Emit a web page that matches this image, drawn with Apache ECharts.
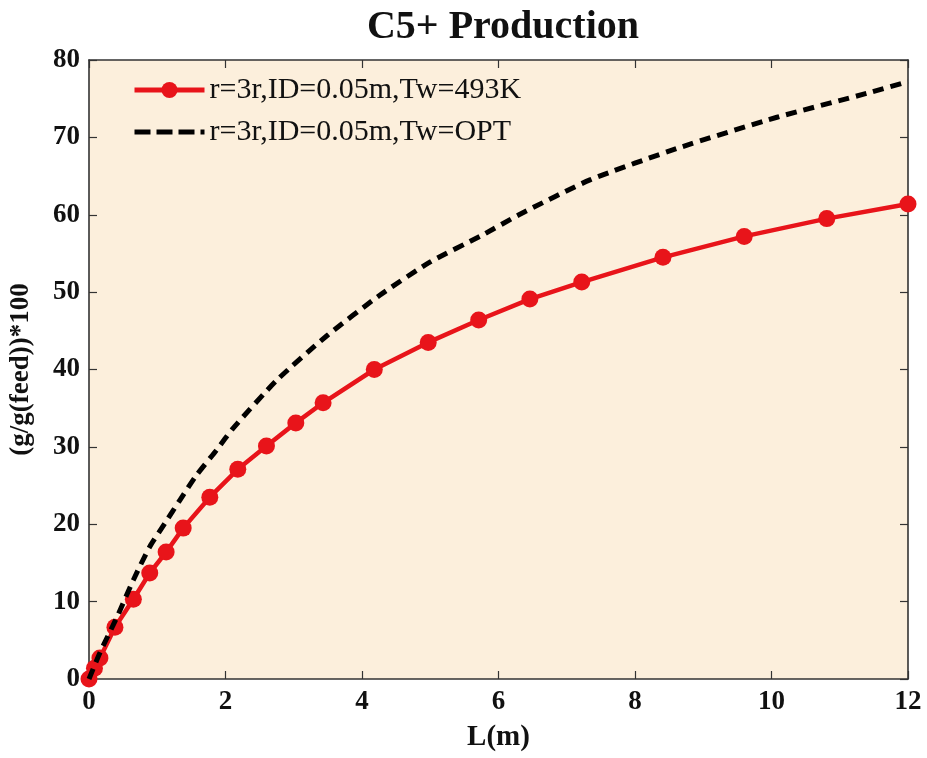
<!DOCTYPE html>
<html>
<head>
<meta charset="utf-8">
<script src="https://cdn.jsdelivr.net/npm/echarts@6/dist/echarts.min.js"></script>
<style>html,body{margin:0;padding:0;background:#fff;}#c{width:927px;height:758px;}</style>
</head>
<body>
<div id="c"></div>
<script>
const titleText = 'C5+ Production';
const xName = 'L(m)';
const yName = '(g/g(feed))*100';
const seriesNames = ['r=3r,ID=0.05m,Tw=493K', 'r=3r,ID=0.05m,Tw=OPT'];
const xTicks = [0, 2, 4, 6, 8, 10, 12];
const yTicks = [0, 10, 20, 30, 40, 50, 60, 70, 80];

const redX = [0, 0.08, 0.16, 0.38, 0.65, 0.89, 1.13, 1.38, 1.77, 2.18, 2.6, 3.03, 3.43, 4.18, 4.97, 5.71, 6.46, 7.22, 8.41, 9.6, 10.81, 12];
const redY = [0, 1.4, 2.7, 6.7, 10.3, 13.7, 16.4, 19.5, 23.5, 27.1, 30.1, 33.1, 35.7, 40.0, 43.5, 46.4, 49.1, 51.3, 54.5, 57.2, 59.5, 61.4];

const blackX = [0, 0.16, 0.41, 0.65, 0.89, 1.11, 1.33, 1.58, 1.87, 2.11, 2.75, 3.49, 4.26, 5.0, 5.77, 6.3, 7.34, 8.66, 10.08, 11.4, 12];
const blackY = [0, 3.4, 8.0, 12.8, 17.1, 20.1, 23.1, 26.4, 29.6, 32.4, 38.6, 44.4, 49.6, 53.9, 57.4, 60.0, 64.5, 68.7, 72.6, 75.7, 77.2];

const serif = '"Liberation Serif","DejaVu Serif",serif';
const RED = '#E8141A';
const chart = echarts.init(document.getElementById('c'), null, {renderer: 'canvas'});

const axisLine = {show: true, onZero: false, lineStyle: {color: '#333', width: 1.6}};
const tick = {show: true, inside: true, length: 8, lineStyle: {color: '#333', width: 1.2}};

chart.setOption({
  backgroundColor: '#fff',
  animation: false,
  title: {
    text: titleText, left: 498, top: 3, textAlign: 'center',
    textStyle: {fontFamily: serif, fontWeight: 'bold', fontSize: 40, color: '#111'}
  },
  legend: {
    orient: 'vertical', left: 127, top: 70, itemWidth: 70, itemHeight: 20, itemGap: 12,
    textStyle: {fontFamily: serif, fontSize: 30, color: '#111'},
    data: [
      {name: seriesNames[0], lineStyle: {width: 5, color: RED}, itemStyle: {color: RED}},
      {name: seriesNames[1], lineStyle: {width: 5, color: '#000', type: [16, 6]}, itemStyle: {opacity: 0}}
    ]
  },
  grid: {left: 89, right: 19, top: 60, bottom: 79, show: true, backgroundColor: '#FCEFDC', borderWidth: 0},
  xAxis: [{
    type: 'value', min: 0, max: 12, interval: 2,
    name: xName, nameLocation: 'middle', nameGap: 44,
    nameTextStyle: {fontFamily: serif, fontWeight: 'bold', fontSize: 29, color: '#111'},
    axisLine: axisLine, axisTick: tick, splitLine: {show: false},
    axisLabel: {fontFamily: serif, fontWeight: 'bold', fontSize: 27, color: '#111', margin: 10,
      formatter: v => xTicks.includes(v) ? String(v) : ''}
  }, {
    type: 'value', position: 'top', min: 0, max: 12, interval: 2,
    axisLine: axisLine, axisTick: tick, axisLabel: {show: false}, splitLine: {show: false}
  }],
  yAxis: [{
    type: 'value', min: 0, max: 80, interval: 10,
    name: yName, nameLocation: 'middle', nameGap: 54, nameRotate: 90,
    nameTextStyle: {fontFamily: serif, fontWeight: 'bold', fontSize: 27, color: '#111'},
    axisLine: axisLine, axisTick: tick, splitLine: {show: false},
    axisLabel: {fontFamily: serif, fontWeight: 'bold', fontSize: 27, color: '#111', margin: 9,
      formatter: v => yTicks.includes(v) ? String(v) : ''}
  }, {
    type: 'value', position: 'right', min: 0, max: 80, interval: 10,
    axisLine: axisLine, axisTick: tick, axisLabel: {show: false}, splitLine: {show: false}
  }],
  series: [{
    name: seriesNames[0], type: 'line', xAxisIndex: 0, yAxisIndex: 0,
    data: redX.map((x, i) => [x, redY[i]]),
    symbol: 'circle', symbolSize: 17,
    lineStyle: {color: RED, width: 4.5},
    itemStyle: {color: RED}, z: 3
  }, {
    name: seriesNames[1], type: 'line', xAxisIndex: 0, yAxisIndex: 0,
    data: blackX.map((x, i) => [x, blackY[i]]),
    symbol: 'none', smooth: 0.2,
    lineStyle: {color: '#000', width: 5, type: [11, 7]},
    itemStyle: {color: '#000'}, z: 4
  }]
});
</script>
</body>
</html>
